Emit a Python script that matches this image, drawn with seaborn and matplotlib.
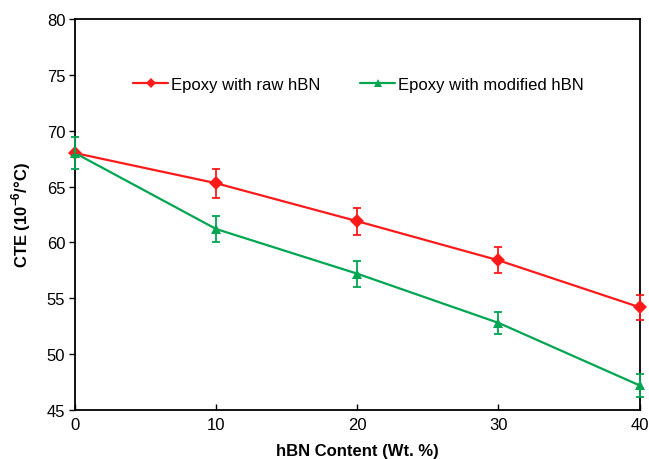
import numpy as np
import pandas as pd
import matplotlib
matplotlib.use("Agg")
import matplotlib.pyplot as plt
import seaborn as sns

sns.set_theme(style="white")
plt.rcParams['font.family'] = ['Liberation Sans', 'DejaVu Sans']
plt.rcParams['text.color'] = 'black'
plt.rcParams['axes.labelcolor'] = 'black'
plt.rcParams['mathtext.fontset'] = 'custom'
plt.rcParams['mathtext.rm'] = 'Liberation Sans:bold'
plt.rcParams['mathtext.bf'] = 'Liberation Sans:bold'

# data
hbn_content = [0, 10, 20, 30, 40]
cte_raw = [68.0, 65.3, 61.9, 58.4, 54.2]
err_raw = [0.0, 1.3, 1.2, 1.15, 1.1]
cte_mod = [68.0, 61.2, 57.2, 52.8, 47.2]
err_mod = [1.4, 1.2, 1.15, 1.0, 1.0]
labels = ['Epoxy with raw hBN', 'Epoxy with modified hBN']
colors = ['#ff1a1a', '#00a651']

df = pd.DataFrame({
    'x': hbn_content * 2,
    'y': cte_raw + cte_mod,
    'err': err_raw + err_mod,
    'series': [labels[0]] * 5 + [labels[1]] * 5,
})

fig = plt.figure(figsize=(6.49, 4.60), dpi=100)
ax = fig.add_axes([0.1156, 0.1065, 0.870, 0.85])

sns.lineplot(data=df, x='x', y='y', hue='series', style='series',
             palette=colors, markers=['D', '^'], dashes=False,
             markersize=7, markeredgewidth=0, linewidth=1.6, ax=ax,
             clip_on=False, zorder=3)

for (name, sub), c in zip(df.groupby('series', sort=False), colors):
    ax.errorbar(sub['x'], sub['y'], yerr=sub['err'], fmt='none',
                ecolor=c, elinewidth=1.3, capsize=3, capthick=1.3,
                clip_on=False, zorder=3)

ax.set_xlim(0, 40)
ax.set_ylim(45, 80)
ax.set_xticks([0, 10, 20, 30, 40])
ax.set_yticks(range(45, 81, 5))
ax.tick_params(axis='x', direction='in', length=4, width=1, labelsize=12,
               colors='black', bottom=True, pad=5)
ax.tick_params(axis='y', direction='out', length=4, width=1, labelsize=12,
               colors='black', left=True, pad=3)
for s in ax.spines.values():
    s.set_color('black')
    s.set_linewidth(1.3)

ax.set_xlabel('hBN Content (Wt. %)', fontsize=12, fontweight='bold', labelpad=8)
ax.set_ylabel(r'CTE (10$^{-6}$/°C)', fontsize=12, fontweight='bold', labelpad=10)

leg = ax.legend(loc='upper left', bbox_to_anchor=(0.103, 0.852), ncol=2, frameon=False,
                fontsize=12, handlelength=2.1, columnspacing=2.4, handletextpad=0.15,
                borderaxespad=0, borderpad=0, markerscale=0.8)
for t in leg.get_texts():
    t.set_color('black')

fig.savefig('out.png', dpi=100)
